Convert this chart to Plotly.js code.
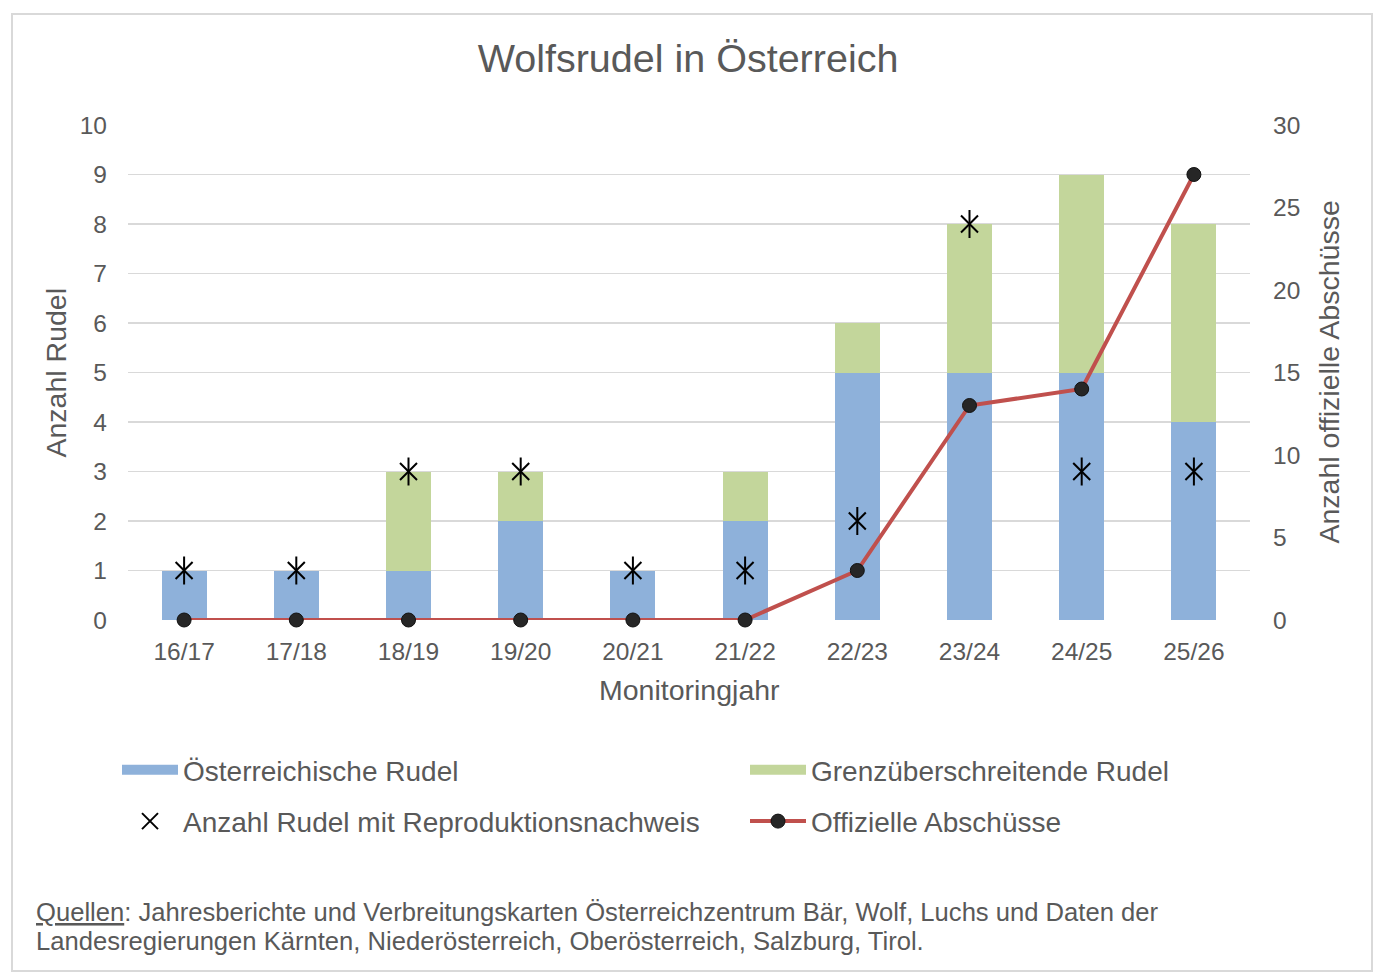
<!DOCTYPE html>
<html><head><meta charset="utf-8">
<script src="https://cdn.plot.ly/plotly-3.0.1.min.js"></script>
<style>html,body{margin:0;padding:0;background:#fff}#c{width:1376px;height:974px}</style>
</head><body><div id="c"></div>
<script>
const categories = ["16/17","17/18","18/19","19/20","20/21","21/22","22/23","23/24","24/25","25/26"];
const austrianPacks = [1,1,1,2,1,2,5,5,5,4];
const crossBorderPacks = [0,0,2,1,0,1,1,3,4,4];
const reproductionPacks = [1,1,3,3,1,1,2,8,3,3];
const officialCulls = [0,0,0,0,0,0,3,13,14,27];

const grey = '#595959';
const font = 'Liberation Sans, Arial, sans-serif';
const blue = '#8eb1da', green = '#c3d69b', red = '#c0504d';

// pixel helpers for paper coords (plot area 128..1250 x, 125..620 y)
const px = x => (x - 128) / 1122;
const py = y => (620 - y) / 495;

const traces = [
  {type:'bar', name:'Österreichische Rudel', x:categories, y:austrianPacks, marker:{color:blue}, yaxis:'y', showlegend:false},
  {type:'bar', name:'Grenzüberschreitende Rudel', x:categories, y:crossBorderPacks, marker:{color:green}, yaxis:'y', showlegend:false},
  {type:'scatter', mode:'markers', name:'Anzahl Rudel mit Reproduktionsnachweis', x:categories, y:reproductionPacks,
   marker:{symbol:'line-ns-open', size:20, color:'#000', line:{color:'#111', width:2}}, yaxis:'y', cliponaxis:false, showlegend:false},
  {type:'scatter', mode:'markers', name:'Anzahl Rudel mit Reproduktionsnachweis', x:categories, y:reproductionPacks,
   marker:{symbol:'x-thin-open', size:17, color:'#000', line:{color:'#111', width:2}}, yaxis:'y', cliponaxis:false,
   legend:'legend', legendgroup:'g2', legendrank:2},
  {type:'scatter', mode:'lines+markers', name:'Offizielle Abschüsse', x:categories, y:officialCulls,
   line:{color:red, width:4}, marker:{symbol:'circle', size:14, color:'#262626', line:{color:'#111', width:1}}, yaxis:'y2', cliponaxis:false,
   legend:'legend2', legendgroup:'g4', legendrank:2},
  // legend swatches for the stacked bars (wide rectangles as in the original)
  {type:'scatter', mode:'lines', name:'Österreichische Rudel', x:[null], y:[null], line:{color:blue, width:14},
   legend:'legend', legendgroup:'g1', legendrank:1, hoverinfo:'skip'},
  {type:'scatter', mode:'lines', name:'Grenzüberschreitende Rudel', x:[null], y:[null], line:{color:green, width:14},
   legend:'legend2', legendgroup:'g3', legendrank:1, hoverinfo:'skip'}
];

const legendBase = {orientation:'v', xanchor:'left', yanchor:'top', font:{size:28, color:grey, family:font},
                    itemwidth:56, tracegroupgap:12, bgcolor:'rgba(0,0,0,0)', borderwidth:0, traceorder:'grouped'};

const layout = {
  width:1376, height:974,
  margin:{l:128, r:126, t:125, b:354, autoexpand:false},
  paper_bgcolor:'#fff', plot_bgcolor:'#fff',
  font:{family:font, color:grey, size:20},
  barmode:'stack', bargap:0.6,
  title:{text:'Wolfsrudel in Österreich', font:{size:39.5, color:grey, family:font}, x:0.5, xanchor:'center', yref:'container', y:1-58/974, yanchor:'middle'},
  showlegend:true,
  legend:Object.assign({}, legendBase, {x:px(117), y:py(745)}),
  legend2:Object.assign({}, legendBase, {x:px(745), y:py(745)}),
  xaxis:{type:'category', range:[-0.5, 9.5], automargin:false, showgrid:false, zeroline:false, showline:false, ticks:'', tickfont:{size:24.5, color:grey},
         ticklabelstandoff:14, fixedrange:true},
  yaxis:{range:[0,10], dtick:1, automargin:false, showgrid:true, gridcolor:'#d9d9d9', gridwidth:1.5, zeroline:false, showline:false, ticks:'',
         tickfont:{size:24.5, color:grey}, ticklabelstandoff:20},
  yaxis2:{range:[0,30], dtick:5, automargin:false, overlaying:'y', side:'right', showgrid:false, zeroline:false, showline:false, ticks:'',
          tickfont:{size:24.5, color:grey}, ticklabelstandoff:22},
  shapes:[
    {type:'rect', xref:'paper', yref:'paper', x0:px(12), x1:px(1372), y0:py(971), y1:py(14),
     line:{color:'#d9d9d9', width:2}, fillcolor:'rgba(0,0,0,0)', layer:'below'}
  ],
  annotations:[
    {xref:'paper', yref:'paper', x:0.5, y:py(690), xanchor:'center', yanchor:'middle', showarrow:false,
     text:'Monitoringjahr', font:{size:28.5, color:grey, family:font}},
    {xref:'paper', yref:'paper', x:px(55), y:0.5, xanchor:'center', yanchor:'middle', showarrow:false, textangle:-90,
     text:'Anzahl Rudel', font:{size:28.5, color:grey, family:font}},
    {xref:'paper', yref:'paper', x:px(1328), y:0.5, xanchor:'center', yanchor:'middle', showarrow:false, textangle:-90,
     text:'Anzahl offizielle Abschüsse', font:{size:28.5, color:grey, family:font}},
    {xref:'paper', yref:'paper', x:px(34), y:py(912), xanchor:'left', yanchor:'middle', align:'left', showarrow:false,
     text:'<span style="text-decoration:underline">Quellen</span>: Jahresberichte und Verbreitungskarten Österreichzentrum Bär, Wolf, Luchs und Daten der',
     font:{size:25.6, color:grey, family:font}},
    {xref:'paper', yref:'paper', x:px(34), y:py(941), xanchor:'left', yanchor:'middle', align:'left', showarrow:false,
     text:'Landesregierungen Kärnten, Niederösterreich, Oberösterreich, Salzburg, Tirol.',
     font:{size:25.6, color:grey, family:font}}
  ]
};
Plotly.newPlot('c', traces, layout, {displayModeBar:false, staticPlot:true});
</script></body></html>
